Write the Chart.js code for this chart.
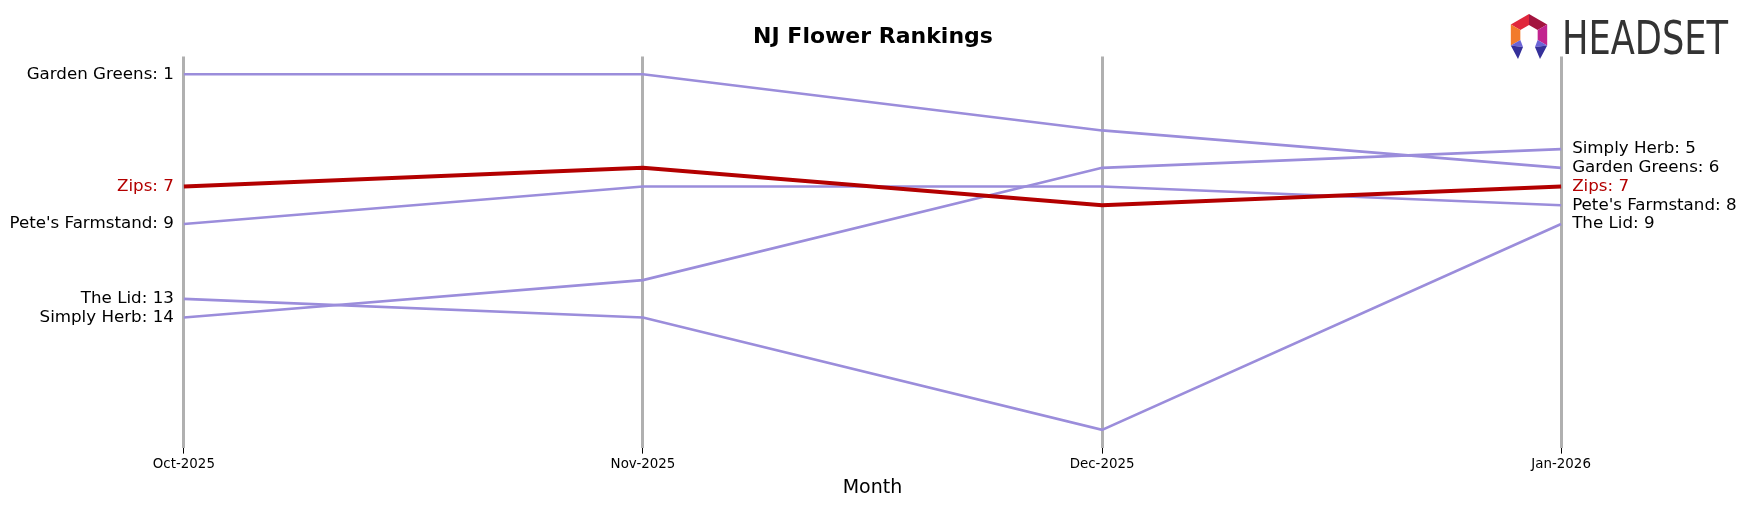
<!DOCTYPE html>
<html>
<head>
<meta charset="utf-8">
<title>NJ Flower Rankings</title>
<script src="https://cdn.jsdelivr.net/npm/chart.js@4.4.1/dist/chart.umd.min.js"></script>
<style>
  html, body { margin: 0; padding: 0; background: #fff; }
  #wrap { width: 1746px; height: 507px; }
</style>
</head>
<body>
<div id="wrap"><canvas id="rankChart" width="1746" height="507"></canvas></div>
<script>
// Rankings per month (lower is better)
const months = ['Oct-2025', 'Nov-2025', 'Dec-2025', 'Jan-2026'];
const brands = ['Zips', 'Garden Greens', "Pete's Farmstand", 'Simply Herb', 'The Lid'];
const zipsRanks = [7, 6, 8, 7];
const gardenGreensRanks = [1, 1, 4, 6];
const petesFarmstandRanks = [9, 7, 7, 8];
const simplyHerbRanks = [14, 12, 6, 5];
const theLidRanks = [13, 14, 20, 9];
const seriesRanks = [zipsRanks, gardenGreensRanks, petesFarmstandRanks, simplyHerbRanks, theLidRanks];
const highlightBrand = 'Zips';

(function () {
  const FONT = '"DejaVu Sans", Verdana, sans-serif';
  const RED = '#b30000';
  const PURPLE = '#9b8ddb';

  const datasets = brands.map(function (name, i) {
    const hi = name === highlightBrand;
    return {
      label: name,
      data: seriesRanks[i].map(function (r, j) { return { x: j, y: r }; }),
      borderColor: hi ? RED : PURPLE,
      borderWidth: hi ? 4 : 2.6,
      pointRadius: 0,
      tension: 0,
      fill: false,
      order: hi ? 0 : 1
    };
  });

  // brand labels at the first and last month, plus title and logo
  const labelPlugin = {
    id: 'rankLabels',
    afterDatasetsDraw(chart) {
      const ctx = chart.ctx;
      const xs = chart.scales.x;
      const ys = chart.scales.y;
      const last = months.length - 1;
      ctx.save();
      ctx.font = '16.7px ' + FONT;
      ctx.textBaseline = 'middle';
      brands.forEach(function (name, i) {
        const ranks = seriesRanks[i];
        ctx.fillStyle = name === highlightBrand ? RED : '#000';
        ctx.textAlign = 'right';
        ctx.fillText(name + ': ' + ranks[0], xs.getPixelForValue(0) - 10, ys.getPixelForValue(ranks[0]));
        ctx.textAlign = 'left';
        ctx.fillText(name + ': ' + ranks[last], xs.getPixelForValue(last) + 11, ys.getPixelForValue(ranks[last]));
      });
      ctx.restore();
    },
    afterDraw(chart) {
      const ctx = chart.ctx;
      ctx.save();
      // title
      ctx.fillStyle = '#000';
      ctx.font = 'bold 22px ' + FONT;
      ctx.textAlign = 'center';
      ctx.textBaseline = 'alphabetic';
      ctx.fillText('NJ Flower Rankings', 873, 43);
      drawLogo(ctx);
      ctx.restore();
    }
  };

  function drawLogo(ctx) {
    const cx = 1529, cy = 35, R = 21, r = 10;
    function pt(rad, deg) {
      const a = deg * Math.PI / 180;
      return [cx + rad * Math.cos(a), cy + rad * Math.sin(a)];
    }
    function quad(a0, a1, color) {
      const p = [pt(R, a0), pt(R, a1), pt(r, a1), pt(r, a0)];
      ctx.beginPath();
      ctx.moveTo(p[0][0], p[0][1]);
      for (let k = 1; k < p.length; k++) ctx.lineTo(p[k][0], p[k][1]);
      ctx.closePath();
      ctx.fillStyle = color;
      ctx.fill();
    }
    quad(210, 270, '#e0263c');
    quad(270, 330, '#a3143f');
    quad(330, 390, '#c2248f');
    quad(150, 210, '#f27a2b');
    // lower pieces pointing down
    function tail(sign, c1, c2) {
      const o = pt(R, 90 - sign * 60), i = pt(r, 90 - sign * 60);
      const tip = [cx + sign * 11, cy + 24];
      const inner = [cx + sign * 6, cy + 12];
      ctx.beginPath();
      ctx.moveTo(o[0], o[1]); ctx.lineTo(i[0], i[1]); ctx.lineTo(inner[0], inner[1]); ctx.closePath();
      ctx.fillStyle = c1; ctx.fill();
      ctx.beginPath();
      ctx.moveTo(o[0], o[1]); ctx.lineTo(inner[0], inner[1]); ctx.lineTo(tip[0], tip[1]); ctx.closePath();
      ctx.fillStyle = c2; ctx.fill();
    }
    tail(1, '#6b63d6', '#35309a');
    tail(-1, '#6b63d6', '#35309a');
    // word mark
    ctx.fillStyle = '#333333';
    ctx.font = '47px "Liberation Sans Narrow", "DejaVu Sans Condensed", "Liberation Sans", sans-serif';
    ctx.textAlign = 'left';
    ctx.textBaseline = 'alphabetic';
    const w = ctx.measureText('HEADSET').width;
    ctx.save();
    ctx.translate(1562, 54);
    ctx.scale(166 / w, 1);
    ctx.fillText('HEADSET', 0, 0);
    ctx.restore();
  }

  new Chart(document.getElementById('rankChart').getContext('2d'), {
    type: 'line',
    data: { datasets: datasets },
    options: {
      responsive: false,
      devicePixelRatio: 1,
      animation: false,
      layout: { padding: { left: 115, right: 116, top: 56.5, bottom: 8 } },
      plugins: { legend: { display: false }, tooltip: { enabled: false }, title: { display: false } },
      scales: {
        x: {
          type: 'linear',
          min: -0.15,
          max: 3.15,
          afterBuildTicks: function (axis) {
            axis.ticks = months.map(function (m, i) { return { value: i }; });
          },
          ticks: {
            autoSkip: false,
            maxRotation: 0,
            padding: 2.7,
            color: '#000',
            font: { family: FONT, size: 13.4 },
            callback: function (v) { return months[v]; }
          },
          grid: {
            color: '#b0b0b0',
            lineWidth: 3,
            drawTicks: true,
            tickLength: 6,
            tickColor: '#000',
            tickWidth: 1
          },
          border: { display: false },
          title: {
            display: true,
            text: 'Month',
            color: '#000',
            font: { family: FONT, size: 19 },
            padding: { top: 1.1, bottom: 0 }
          }
        },
        y: {
          display: false,
          reverse: true,
          min: 0.05,
          max: 20.95
        }
      }
    },
    plugins: [labelPlugin]
  });
})();
</script>
</body>
</html>
